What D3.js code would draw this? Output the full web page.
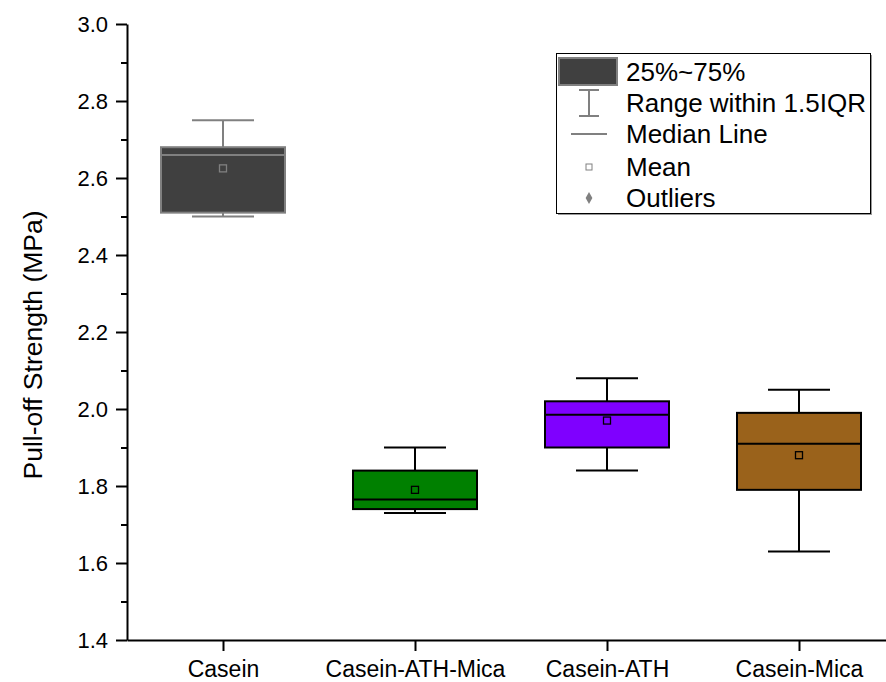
<!DOCTYPE html>
<html>
<head>
<meta charset="utf-8">
<style>
    body { margin: 0; background: #fff; }
    svg { display: block; font-family: 'Liberation Sans', Arial, sans-serif; }
</style>
</head>
<body>
<svg id="chart" width="886" height="682"></svg>
<script src="https://cdnjs.cloudflare.com/ajax/libs/d3/7.8.5/d3.min.js"></script>
<script>
    // values
    const categories = ["Casein", "Casein-ATH-Mica", "Casein-ATH", "Casein-Mica"];
    const whiskerLow = [2.50, 1.73, 1.84, 1.63];
    const q1 = [2.51, 1.74, 1.90, 1.79];
    const median = [2.66, 1.765, 1.985, 1.91];
    const q3 = [2.68, 1.84, 2.02, 1.99];
    const whiskerHigh = [2.75, 1.90, 2.08, 2.05];
    const means = [2.625, 1.79, 1.97, 1.88];
    const fills = ["#404040", "#008000", "#7F00FF", "#9A621B"];
    const strokes = ["#808080", "#000000", "#000000", "#000000"];

    const legendLabels = ["25%~75%", "Range within 1.5IQR", "Median Line", "Mean", "Outliers"];
    const yMajorTicks = [1.4, 1.6, 1.8, 2.0, 2.2, 2.4, 2.6, 2.8, 3.0];
    const yMinorTicks = [1.5, 1.7, 1.9, 2.1, 2.3, 2.5, 2.7, 2.9];

    const svg = d3.select("#chart");

    const x = d3.scaleLinear().domain([0.5, 4.5]).range([127, 895]);
    const y = d3.scaleLinear().domain([1.4, 3.0]).range([640, 24]);

    const boxW = 124, capW = 62, lw = 2;

    // axes
    const yAxis = svg.append("g")
        .attr("transform", "translate(127,0)")
        .call(d3.axisLeft(y).tickValues(yMajorTicks).tickFormat(d3.format(".1f")).tickSize(11).tickSizeOuter(0).tickPadding(8));
    svg.append("g")
        .attr("transform", "translate(127,0)")
        .call(d3.axisLeft(y).tickValues(yMinorTicks).tickFormat("").tickSize(6).tickSizeOuter(0))
        .select(".domain").remove();
    yAxis.selectAll("text").attr("font-size", 22).attr("fill", "#000");

    const xAxis = svg.append("g")
        .attr("transform", "translate(0,640)")
        .call(d3.axisBottom(x).tickValues([1, 2, 3, 4]).tickFormat((d, i) => categories[i]).tickSize(11).tickSizeOuter(0).tickPadding(10));
    xAxis.selectAll("text").attr("font-size", 23).attr("fill", "#000");

    svg.selectAll(".domain, .tick line").attr("stroke", "#000").attr("stroke-width", lw);
    svg.selectAll("g text").attr("font-family", "'Liberation Sans', Arial, sans-serif");

    svg.append("text")
        .attr("transform", "translate(42,345) rotate(-90)")
        .attr("text-anchor", "middle")
        .attr("font-size", 26.5)
        .text("Pull-off Strength (MPa)");

    // boxes
    const boxes = svg.append("g").selectAll("g")
        .data(categories)
        .join("g");

    boxes.each(function (c, i) {
        const g = d3.select(this);
        const cx = x(i + 1);
        const col = strokes[i];
        g.append("line")
            .attr("x1", cx).attr("x2", cx)
            .attr("y1", y(whiskerHigh[i])).attr("y2", y(q3[i]))
            .attr("stroke", col).attr("stroke-width", lw);
        g.append("line")
            .attr("x1", cx).attr("x2", cx)
            .attr("y1", y(q1[i])).attr("y2", y(whiskerLow[i]))
            .attr("stroke", col).attr("stroke-width", lw);
        [whiskerHigh[i], whiskerLow[i]].forEach(v => {
            g.append("line")
                .attr("x1", cx - capW / 2).attr("x2", cx + capW / 2)
                .attr("y1", y(v)).attr("y2", y(v))
                .attr("stroke", col).attr("stroke-width", lw);
        });
        g.append("rect")
            .attr("x", cx - boxW / 2).attr("width", boxW)
            .attr("y", y(q3[i])).attr("height", y(q1[i]) - y(q3[i]))
            .attr("fill", fills[i]).attr("stroke", col).attr("stroke-width", lw);
        g.append("line")
            .attr("x1", cx - boxW / 2).attr("x2", cx + boxW / 2)
            .attr("y1", y(median[i])).attr("y2", y(median[i]))
            .attr("stroke", col).attr("stroke-width", lw);
        g.append("rect")
            .attr("x", cx - 3.5).attr("y", y(means[i]) - 3.5)
            .attr("width", 7).attr("height", 7)
            .attr("fill", "none").attr("stroke", col).attr("stroke-width", 1.3);
    });

    // legend
    const lg = svg.append("g");
    lg.append("rect").attr("x", 558).attr("y", 55).attr("width", 314).attr("height", 160).attr("fill", "#999");
    lg.append("rect").attr("x", 556.5).attr("y", 53.5).attr("width", 314).attr("height", 160)
        .attr("fill", "#fff").attr("stroke", "#000").attr("stroke-width", 1);

    const rowY = [72, 103, 134, 167, 198];
    lg.selectAll("text")
        .data(legendLabels)
        .join("text")
        .attr("x", 626)
        .attr("y", (d, i) => rowY[i])
        .attr("dy", "0.35em")
        .attr("font-size", 26)
        .text(d => d);

    lg.append("rect").attr("x", 559).attr("y", 58).attr("width", 58).attr("height", 27)
        .attr("fill", fills[0]).attr("stroke", "#808080").attr("stroke-width", lw);
    const ix = 589;
    lg.append("line").attr("x1", ix).attr("x2", ix).attr("y1", 90).attr("y2", 116).attr("stroke", "#808080").attr("stroke-width", lw);
    [90, 116].forEach(v => lg.append("line").attr("x1", ix - 10).attr("x2", ix + 10).attr("y1", v).attr("y2", v).attr("stroke", "#808080").attr("stroke-width", lw));
    lg.append("line").attr("x1", 571).attr("x2", 607).attr("y1", rowY[2]).attr("y2", rowY[2]).attr("stroke", "#808080").attr("stroke-width", lw);
    lg.append("rect").attr("x", ix - 3).attr("y", rowY[3] - 3).attr("width", 6).attr("height", 6)
        .attr("fill", "#fff").attr("stroke", "#808080").attr("stroke-width", 1);
    lg.append("path").attr("d", d3.symbol(d3.symbolDiamond, 40)()).attr("transform", `translate(${ix},${rowY[4]})`)
        .attr("fill", "#808080");
</script>
</body>
</html>
